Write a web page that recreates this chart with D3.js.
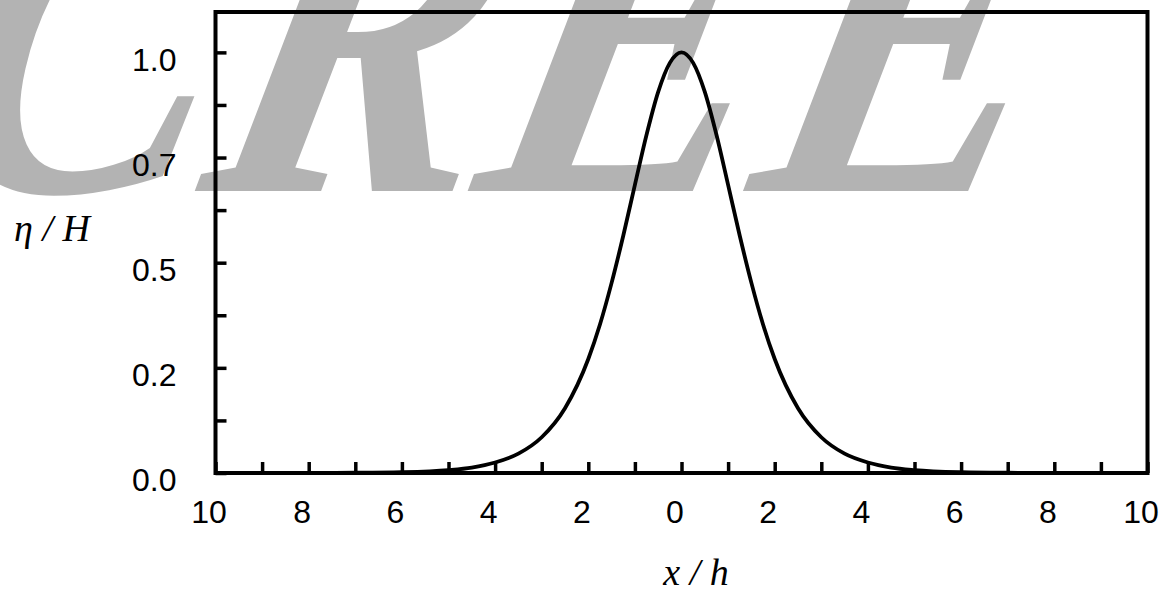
<!DOCTYPE html>
<html>
<head>
<meta charset="utf-8">
<script src="https://cdn.jsdelivr.net/npm/d3@7"></script>
<style>
  body { margin: 0; background: #fff; }
  svg { display: block; }
  .axis text { font-family: "Liberation Sans", Arial, sans-serif; font-size: 32px; fill: #000; }
  .axis line { stroke: #000; stroke-width: 3.5; }
  .axis path { display: none; }
  .axis-title { font-family: "Liberation Serif", "Times New Roman", serif; font-style: italic; font-size: 38px; fill: #000; }
  .mark { font-family: "Liberation Serif", "Times New Roman", serif; font-weight: bold; font-style: italic; fill: #b3b3b3; }
</style>
</head>
<body>
<div id="graphic"></div>
<script>
// wave profile (x/h, eta/H)
const xs = [-10, -9, -8, -7, -6, -5, -4.5, -4, -3.5, -3, -2.5, -2, -1.75, -1.5, -1.25, -1, -0.75, -0.5, -0.25,
            0, 0.25, 0.5, 0.75, 1, 1.25, 1.5, 1.75, 2, 2.5, 3, 3.5, 4, 4.5, 5, 6, 7, 8, 9, 10];
const eta = [0.0000, 0.0000, 0.0002, 0.0006, 0.002, 0.007, 0.013, 0.025, 0.046, 0.085, 0.154, 0.271, 0.353, 0.452, 0.564, 0.685, 0.804, 0.906, 0.975,
             1.0, 0.975, 0.906, 0.804, 0.685, 0.564, 0.452, 0.353, 0.271, 0.154, 0.085, 0.046, 0.025, 0.013, 0.007, 0.002, 0.0006, 0.0002, 0.0000, 0.0000];

// ticks
const xTicks = [-10, -9, -8, -7, -6, -5, -4, -3, -2, -1, 0, 1, 2, 3, 4, 5, 6, 7, 8, 9, 10];
const xTickLabels = ["10", "", "8", "", "6", "", "4", "", "2", "", "0", "", "2", "", "4", "", "6", "", "8", "", "10"];
const yTicks = [0, 0.125, 0.25, 0.375, 0.5, 0.625, 0.75, 0.875, 1.0];
const yTickLabels = ["0.0", "", "0.2", "", "0.5", "", "0.7", "", "1.0"];

const W = 1171, H = 596;
const plot = { left: 215.5, right: 1147.5, top: 12, bottom: 473 };

const svg = d3.select("#graphic").append("svg")
  .attr("width", W)
  .attr("height", H);

// grey stamp behind the chart
svg.append("text")
  .attr("class", "mark")
  .attr("transform", "translate(-80,191) skewX(-13) scale(0.86,1)")
  .attr("font-size", 480)
  .text("CREE");

const x = d3.scaleLinear()
  .domain([-10, 10])
  .range([plot.left, plot.right]);

const y = d3.scaleLinear()
  .domain([0, 1.096])
  .range([plot.bottom, plot.top]);

// x axis, ticks pointing in
svg.append("g")
  .attr("class", "axis")
  .attr("transform", `translate(0,${plot.bottom})`)
  .call(d3.axisBottom(x)
    .tickValues(xTicks)
    .tickSize(-11)
    .tickPadding(27)
    .tickFormat((d, i) => xTickLabels[i]))
  .selectAll("text")
  .attr("dx", -7);

// y axis
svg.append("g")
  .attr("class", "axis")
  .attr("transform", `translate(${plot.left},0)`)
  .call(d3.axisLeft(y)
    .tickValues(yTicks)
    .tickSize(-11)
    .tickPadding(39)
    .tickFormat((d, i) => yTickLabels[i]))
  .selectAll("text")
  .attr("dy", "0.56em");

// frame
svg.append("rect")
  .attr("x", plot.left)
  .attr("y", plot.top)
  .attr("width", plot.right - plot.left)
  .attr("height", plot.bottom - plot.top)
  .attr("fill", "none")
  .attr("stroke", "#000")
  .attr("stroke-width", 4);

// curve
svg.append("path")
  .datum(eta)
  .attr("fill", "none")
  .attr("stroke", "#000")
  .attr("stroke-width", 3.8)
  .attr("stroke-linejoin", "round")
  .attr("d", d3.line()
    .x((d, i) => x(xs[i]))
    .y(d => y(d))
    .curve(d3.curveMonotoneX));

// axis titles
svg.append("text")
  .attr("class", "axis-title")
  .attr("x", 52)
  .attr("y", 241)
  .attr("text-anchor", "middle")
  .text("η / H");

svg.append("text")
  .attr("class", "axis-title")
  .attr("x", 696)
  .attr("y", 585)
  .attr("text-anchor", "middle")
  .text("x / h");
</script>
</body>
</html>
